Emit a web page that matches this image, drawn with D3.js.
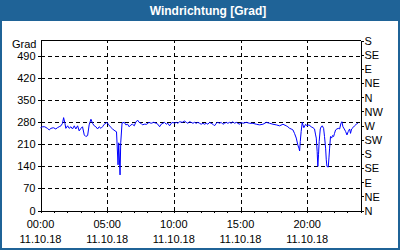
<!DOCTYPE html>
<html>
<head>
<meta charset="utf-8">
<script src="https://cdn.jsdelivr.net/npm/d3@7"></script>
<style>
  html, body { margin: 0; padding: 0; background: #fff; }
  svg { display: block; font-family: "Liberation Sans", Arial, sans-serif; }
  .axis text { font-size: 11px; fill: #000; }
  .axis path, .axis line { stroke: #000; shape-rendering: crispEdges; }
  .grid line { stroke: #000; stroke-dasharray: 4,3; shape-rendering: crispEdges; }
</style>
</head>
<body>
<div id="chart"></div>
<script>
// Windrichtung 11.10.18, Minuten seit 00:00
var minutes = [0, 9, 19, 31, 39, 47, 58, 69, 76, 84, 92, 99, 104, 110, 114, 122, 129, 137, 144, 152,
  159, 167, 174, 182, 189, 197, 204, 212, 219, 227, 234, 242, 249, 257, 264, 272, 279, 287, 299, 305,
  314, 324, 335, 342, 349, 352, 358, 361, 367, 377, 384, 392, 399, 407, 414, 422, 429, 437, 444, 452,
  459, 467, 478, 488, 498, 509, 521, 528, 536, 543, 551, 558, 566, 573, 581, 588, 596, 603, 611, 618,
  626, 638, 648, 656, 663, 671, 678, 686, 693, 701, 708, 716, 723, 731, 738, 746, 753, 761, 768, 776,
  783, 791, 798, 806, 813, 821, 828, 836, 843, 851, 858, 866, 873, 881, 888, 896, 903, 911, 926, 941,
  956, 971, 986, 1001, 1016, 1031, 1046, 1061, 1076, 1091, 1106, 1113, 1121, 1128, 1136, 1143, 1151, 1158, 1163, 1166,
  1169, 1173, 1178, 1181, 1185, 1193, 1199, 1208, 1218, 1226, 1233, 1238, 1241, 1245, 1248, 1251, 1254, 1259, 1263, 1268,
  1274, 1278, 1283, 1286, 1289, 1295, 1298, 1301, 1305, 1310, 1314, 1319, 1323, 1328, 1334, 1340, 1346, 1352, 1356, 1361,
  1367, 1373, 1379, 1385, 1391, 1395, 1400, 1406, 1413, 1421, 1428]
var directions = [263, 266, 266, 261, 256, 261, 263, 259, 263, 266, 269, 277, 295, 277, 261, 269, 261, 266, 259, 269,
  259, 269, 253, 261, 266, 240, 235, 238, 272, 290, 277, 269, 266, 259, 266, 261, 266, 274, 280, 274,
  266, 259, 253, 250, 145, 215, 113, 215, 278, 280, 272, 274, 266, 272, 274, 269, 281, 287, 280, 277,
  272, 274, 274, 280, 277, 280, 277, 274, 266, 274, 277, 280, 274, 277, 269, 277, 280, 277, 280, 277,
  282, 280, 284, 280, 277, 282, 280, 277, 280, 277, 280, 277, 274, 277, 274, 277, 274, 280, 277, 274,
  269, 277, 280, 277, 280, 274, 277, 280, 277, 280, 277, 282, 277, 280, 277, 274, 280, 277, 280, 277,
  277, 274, 272, 274, 280, 277, 274, 272, 269, 274, 269, 266, 261, 259, 256, 245, 230, 208, 198, 189,
  219, 251, 280, 272, 263, 274, 269, 272, 266, 263, 259, 240, 230, 187, 140, 177, 219, 259, 266, 269,
  261, 235, 198, 161, 140, 138, 167, 198, 235, 230, 238, 235, 245, 256, 259, 261, 259, 277, 282, 266,
  259, 251, 240, 251, 259, 245, 259, 263, 269, 274, 277]

var gradTicks = [0, 70, 140, 210, 280, 350, 420, 490]
var compassTicks = [0, 45, 90, 135, 180, 225, 270, 315, 360, 405, 450, 495, 540]
var compassLabels = ['N', 'NE', 'E', 'SE', 'S', 'SW', 'W', 'NW', 'N', 'NE', 'E', 'SE', 'S']
var hourTicks = d3.range(0, 1441, 60)
var timeTicks = [0, 300, 600, 900, 1200]
var timeLabels = ['00:00', '05:00', '10:00', '15:00', '20:00']
var dateLabel = '11.10.18'

var W = 400, H = 250
var svg = d3.select('#chart').append('svg').attr('width', W).attr('height', H)

// Rahmen + Titelleiste
svg.append('rect').attr('width', W).attr('height', H).attr('fill', '#1f6397')
svg.append('rect').attr('x', 2).attr('y', 21).attr('width', W - 4).attr('height', H - 23).attr('fill', '#fff')
svg.append('text')
  .attr('x', 208).attr('y', 15)
  .attr('text-anchor', 'middle')
  .attr('fill', '#fff')
  .style('font-size', '12px').style('font-weight', 'bold')
  .text('Windrichtung [Grad]')

var x = d3.scaleLinear().domain([0, 1440]).range([40.5, 360.5])
var y = d3.scaleLinear().domain([0, 540]).range([210.5, 40.5])

// Gitter
var grid = svg.append('g').attr('class', 'grid')
grid.selectAll('line.h').data(gradTicks.slice(1)).enter().append('line')
  .attr('x1', x(0)).attr('x2', x(1440))
  .attr('y1', d => Math.round(y(d)) + 0.5).attr('y2', d => Math.round(y(d)) + 0.5)
grid.selectAll('line.v').data(timeTicks.slice(1)).enter().append('line')
  .attr('y1', y(0)).attr('y2', y(540))
  .attr('x1', d => Math.round(x(d)) + 0.5).attr('x2', d => Math.round(x(d)) + 0.5)

// Achsen
var left = svg.append('g').attr('class', 'axis')
  .attr('transform', 'translate(40.5,0)')
  .call(d3.axisLeft(y).tickValues(gradTicks).tickSize(3).tickPadding(2).tickSizeOuter(0))
left.append('text').attr('x', -4).attr('y', 48).attr('text-anchor', 'end').text('Grad')

svg.append('g').attr('class', 'axis')
  .attr('transform', 'translate(360.5,0)')
  .call(d3.axisRight(y).tickValues(compassTicks).tickSize(3).tickPadding(1).tickSizeOuter(0)
    .tickFormat((d, i) => compassLabels[i]))
  .selectAll('text').attr('dy', '0.35em')

svg.append('g').attr('class', 'axis')
  .attr('transform', 'translate(0,210.5)')
  .call(d3.axisBottom(x).tickValues(hourTicks).tickSize(2).tickFormat('').tickSizeOuter(0))

svg.append('line').attr('x1', x(0)).attr('x2', x(1440)).attr('y1', 40.5).attr('y2', 40.5)
  .attr('stroke', '#000').style('shape-rendering', 'crispEdges')

var xl = svg.append('g').attr('class', 'axis')
xl.selectAll('text.t').data(timeTicks).enter().append('text')
  .attr('x', d => x(d)).attr('y', 228).attr('text-anchor', 'middle')
  .text((d, i) => timeLabels[i])
xl.selectAll('text.d').data(timeTicks).enter().append('text')
  .attr('x', d => x(d)).attr('y', 243).attr('text-anchor', 'middle')
  .text(dateLabel)

// Datenlinie
var line = d3.line().x((d, i) => x(minutes[i])).y(d => y(d))
svg.append('path')
  .datum(directions)
  .attr('d', line)
  .attr('fill', 'none')
  .attr('stroke', '#0000ff')
  .attr('stroke-width', 1)
</script>
</body>
</html>
